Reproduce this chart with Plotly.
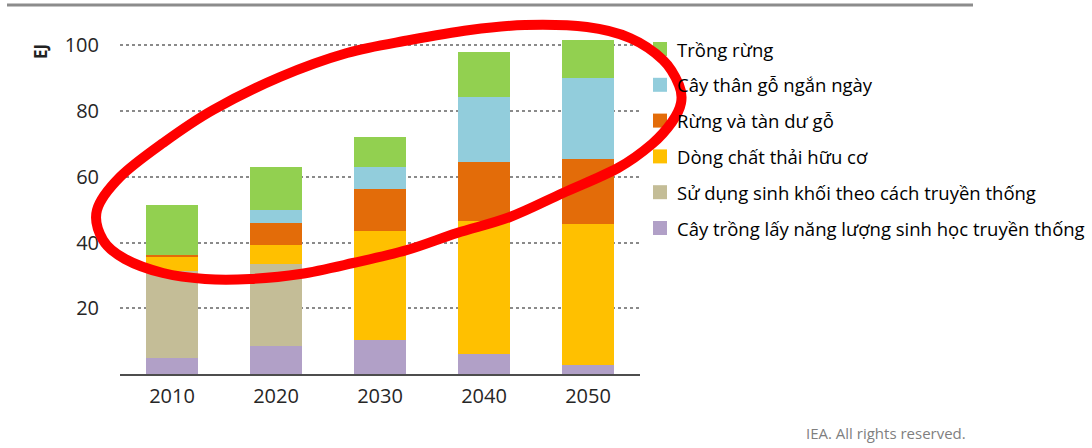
import numpy as np
import plotly.graph_objects as go

# Canvas and plot-area geometry (pixels)
W, H = 1092, 448
M_L, M_R, M_T, M_B = 120, 452, 29, 74
PLOT_W = W - M_L - M_R
PLOT_H = H - M_T - M_B

# ---- data (EJ) ----
years = ["2010", "2020", "2030", "2040", "2050"]
cay_trong_nlsh = [5.0, 8.4, 10.4, 6.2, 2.6]          # Cây trồng lấy năng lượng sinh học truyền thống
sinh_khoi_tt = [26.2, 25.0, 0.0, 0.0, 0.0]            # Sử dụng sinh khối theo cách truyền thống
chat_thai_huu_co = [4.5, 5.9, 33.2, 40.4, 43.1]       # Dòng chất thải hữu cơ
rung_tan_du_go = [0.6, 6.6, 12.6, 17.8, 19.6]         # Rừng và tàn dư gỗ
cay_than_go = [0.0, 4.0, 6.9, 20.0, 24.7]             # Cây thân gỗ ngắn ngày
trong_rung = [15.2, 13.0, 9.1, 13.5, 11.8]            # Trồng rừng

y_ticks = [20, 40, 60, 80, 100]

# stacking order: bottom -> top
series = [
    ("Cây trồng lấy năng lượng sinh học truyền thống", cay_trong_nlsh, "#B1A0C7"),
    ("Sử dụng sinh khối theo cách truyền thống", sinh_khoi_tt, "#C4BD97"),
    ("Dòng chất thải hữu cơ", chat_thai_huu_co, "#FFC000"),
    ("Rừng và tàn dư gỗ", rung_tan_du_go, "#E36C09"),
    ("Cây thân gỗ ngắn ngày", cay_than_go, "#92CDDC"),
    ("Trồng rừng", trong_rung, "#92D050"),
]


def px_x(px):
    return (px - M_L) / PLOT_W


def px_y(py):
    return (H - M_B - py) / PLOT_H


fig = go.Figure()
for name, vals, color in series:
    fig.add_trace(go.Bar(
        x=years, y=vals, name=name,
        marker=dict(color=color, line=dict(width=0)),
        showlegend=False, hoverinfo="x+y+name",
    ))

TXT = "Open Sans"
shapes = []
annotations = []

# thin rule across the top
shapes.append(dict(type="line", xref="paper", yref="paper",
                   x0=px_x(7), x1=px_x(973), y0=px_y(5), y1=px_y(5),
                   line=dict(color="#8C8C8C", width=3), layer="above"))

# hand-made legend, top entry first
LEG_X, LEG_Y0, LEG_DY, SQ = 653, 49, 35.8, 14
for i, (name, _, color) in enumerate(reversed(series)):
    cy = LEG_Y0 + i * LEG_DY
    shapes.append(dict(type="rect", xref="paper", yref="paper",
                       x0=px_x(LEG_X), x1=px_x(LEG_X + SQ),
                       y0=px_y(cy - SQ / 2), y1=px_y(cy + SQ / 2),
                       fillcolor=color, line=dict(width=0), layer="above"))
    annotations.append(dict(xref="paper", yref="paper", x=px_x(LEG_X + 22), y=px_y(cy),
                            text=name, showarrow=False, xanchor="left", yanchor="middle",
                            font=dict(family=TXT, size=18.5, color="#000000")))

# unit label
annotations.append(dict(xref="paper", yref="paper", x=px_x(40), y=px_y(52),
                        text="<b>EJ</b>", showarrow=False, textangle=-90,
                        xanchor="center", yanchor="middle",
                        font=dict(family=TXT, size=17, color="#222222")))

# credit line
annotations.append(dict(xref="paper", yref="paper", x=px_x(968), y=px_y(433),
                        text="IEA. All rights reserved.", showarrow=False,
                        xanchor="right", yanchor="middle",
                        font=dict(family=TXT, size=15, color="#7F7F7F")))

# red freehand ring highlighting the growth, as a smooth closed Catmull-Rom path
ring = np.array([
    (97, 210), (120, 177), (163, 143), (213, 110), (280, 77), (347, 53), (410, 40),
    (470, 30), (525, 25), (587, 27), (630, 38), (663, 60), (679, 85), (681, 103),
    (672, 122), (652, 144), (618, 168), (563, 193), (510, 217), (457, 233),
    (407, 250), (353, 263), (300, 274), (250, 279), (205, 279), (163, 273),
    (125, 259), (103, 240),
], dtype=float)
pp = np.column_stack([px_x(ring[:, 0]), px_y(ring[:, 1])])
n = len(pp)
path = f"M {pp[0,0]:.5f},{pp[0,1]:.5f}"
for i in range(n):
    p0, p1, p2, p3 = pp[i - 1], pp[i], pp[(i + 1) % n], pp[(i + 2) % n]
    c1 = p1 + (p2 - p0) / 6
    c2 = p2 - (p3 - p1) / 6
    path += (f" C {c1[0]:.5f},{c1[1]:.5f} {c2[0]:.5f},{c2[1]:.5f} "
             f"{p2[0]:.5f},{p2[1]:.5f}")
path += " Z"
shapes.append(dict(type="path", xref="paper", yref="paper", path=path,
                   line=dict(color="#FF0000", width=10), fillcolor="rgba(0,0,0,0)",
                   layer="above"))

fig.update_layout(
    width=W, height=H,
    margin=dict(l=M_L, r=M_R, t=M_T, b=M_B, pad=0),
    paper_bgcolor="white", plot_bgcolor="white",
    barmode="stack", bargap=0.5,
    font=dict(family=TXT, color="#262626"),
    shapes=shapes, annotations=annotations,
    xaxis=dict(type="category", range=[-0.5, 4.5], showgrid=False,
               showline=True, linecolor="#4D4D4D", linewidth=1.5,
               ticks="", ticklabelstandoff=3,
               tickfont=dict(family=TXT, size=20, color="#262626")),
    yaxis=dict(range=[0, 105], tickvals=y_ticks, showgrid=True,
               gridcolor="#8A8A8A", gridwidth=1.5, griddash="dot",
               zeroline=False, showline=False, ticks="", ticklabelstandoff=20,
               tickfont=dict(family=TXT, size=20, color="#262626")),
)

fig.write_html("out.html")
